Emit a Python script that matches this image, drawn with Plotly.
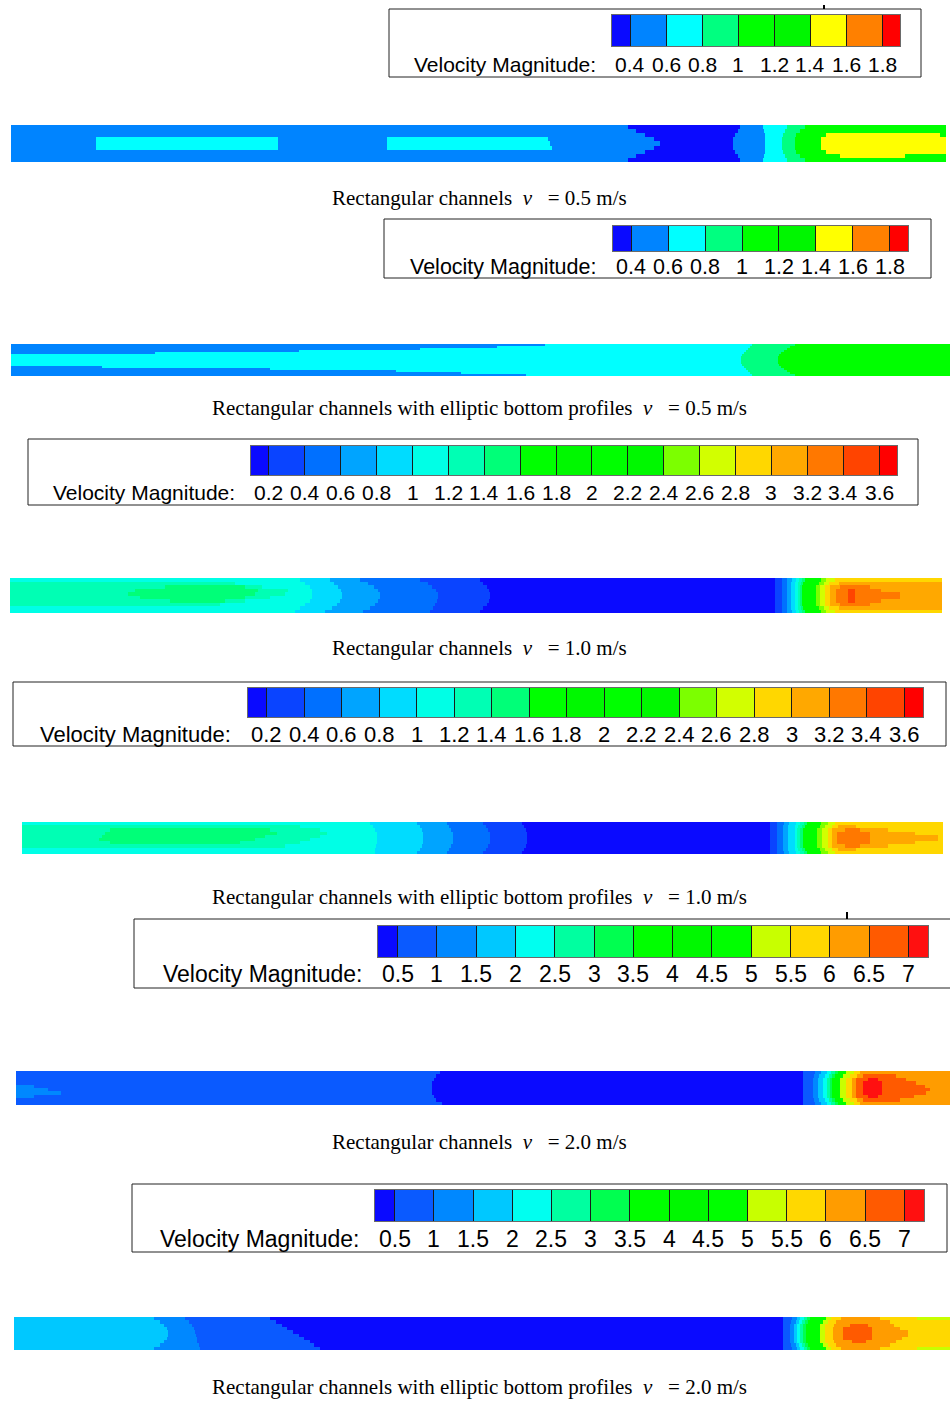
import plotly.graph_objects as go

# ---------------- legend scales (labels at block boundaries) ----------------
LEVELS_05 = [0.4, 0.6, 0.8, 1.0, 1.2, 1.4, 1.6, 1.8]
TEXT_05 = ['0.4', '0.6', '0.8', '1', '1.2', '1.4', '1.6', '1.8']
COLORS_05 = ['#0a0aff', '#0084ff', '#00ffff', '#00ff80', '#00ff00', '#00f600',
             '#ffff00', '#ff8000', '#ff0000']

LEVELS_10 = [0.2, 0.4, 0.6, 0.8, 1.0, 1.2, 1.4, 1.6, 1.8, 2.0, 2.2, 2.4, 2.6, 2.8,
             3.0, 3.2, 3.4, 3.6]
TEXT_10 = ['0.2', '0.4', '0.6', '0.8', '1', '1.2', '1.4', '1.6', '1.8', '2', '2.2',
           '2.4', '2.6', '2.8', '3', '3.2', '3.4', '3.6']
COLORS_10 = ['#0a0aff', '#0a44ff', '#0070ff', '#00a4ff', '#00dcff', '#00ffe6',
             '#00ffb4', '#00ff78', '#00ff00', '#00f800', '#00ff00', '#00f800',
             '#7cff00', '#d2ff00', '#ffd700', '#ffa800', '#ff7800', '#ff4400', '#ff0000']

LEVELS_20 = [0.5, 1.0, 1.5, 2.0, 2.5, 3.0, 3.5, 4.0, 4.5, 5.0, 5.5, 6.0, 6.5, 7.0]
TEXT_20 = ['0.5', '1', '1.5', '2', '2.5', '3', '3.5', '4', '4.5', '5', '5.5', '6',
           '6.5', '7']
COLORS_20 = ['#0a0aff', '#0a5aff', '#0088ff', '#00c8ff', '#00fff0', '#00ffa0',
             '#00ff50', '#00ff00', '#00f800', '#00ff00', '#c8ff00', '#ffd800',
             '#ff9c00', '#ff5a00', '#ff1010']

# ---------------- velocity fields: rows (top->bottom) of [x_end %, velocity] ----------------
S1_ROWS = [
    [[66.0, 0.5], [78.0, 0.35], [80.4, 0.5], [83.0, 0.7], [84.9, 0.9], [100, 1.1]],
    [[66.8, 0.5], [77.7, 0.35], [80.5, 0.5], [82.8, 0.7], [84.4, 0.9], [100, 1.1]],
    [[67.8, 0.5], [77.4, 0.35], [80.6, 0.5], [82.6, 0.7], [84.0, 0.9], [87.2, 1.1], [99.4, 1.5], [100, 1.1]],
    [[9.1, 0.5], [28.6, 0.7], [40.2, 0.5], [57.4, 0.7], [68.8, 0.5], [77.2, 0.35], [80.6, 0.5], [82.5, 0.7], [83.9, 0.9], [86.6, 1.1], [100, 1.5]],
    [[9.1, 0.5], [28.6, 0.7], [40.2, 0.5], [57.6, 0.7], [69.4, 0.5], [77.2, 0.35], [80.6, 0.5], [82.5, 0.7], [83.9, 0.9], [86.6, 1.1], [100, 1.5]],
    [[9.1, 0.5], [28.6, 0.7], [40.2, 0.5], [57.9, 0.7], [68.8, 0.5], [77.2, 0.35], [80.6, 0.5], [82.5, 0.7], [83.9, 0.9], [86.6, 1.1], [100, 1.5]],
    [[67.8, 0.5], [77.4, 0.35], [80.6, 0.5], [82.6, 0.7], [84.0, 0.9], [87.2, 1.1], [100, 1.5]],
    [[66.8, 0.5], [77.7, 0.35], [80.5, 0.5], [82.8, 0.7], [84.4, 0.9], [88.7, 1.1], [95.6, 1.5], [100, 1.1]],
    [[66.0, 0.5], [78.0, 0.35], [80.4, 0.5], [83.0, 0.7], [84.9, 0.9], [100, 1.1]],
]

S2_ROWS = [
    [[56.9, 0.5], [78.9, 0.7], [83.5, 0.9], [100, 1.1]],
    [[51.8, 0.5], [78.7, 0.7], [83.0, 0.9], [100, 1.1]],
    [[43.6, 0.5], [78.5, 0.7], [82.6, 0.9], [100, 1.1]],
    [[30.7, 0.5], [78.3, 0.7], [82.3, 0.9], [100, 1.1]],
    [[15.3, 0.5], [78.1, 0.7], [82.0, 0.9], [100, 1.1]],
    [[77.9, 0.7], [81.8, 0.9], [100, 1.1]],
    [[77.7, 0.7], [81.7, 0.9], [100, 1.1]],
    [[77.7, 0.7], [81.7, 0.9], [100, 1.1]],
    [[77.7, 0.7], [81.7, 0.9], [100, 1.1]],
    [[77.7, 0.7], [81.7, 0.9], [100, 1.1]],
    [[77.9, 0.7], [81.8, 0.9], [100, 1.1]],
    [[9.7, 0.5], [78.1, 0.7], [82.0, 0.9], [100, 1.1]],
    [[27.6, 0.5], [78.3, 0.7], [82.3, 0.9], [100, 1.1]],
    [[41.0, 0.5], [78.5, 0.7], [82.6, 0.9], [100, 1.1]],
    [[47.9, 0.5], [78.7, 0.7], [83.0, 0.9], [100, 1.1]],
    [[54.8, 0.5], [78.9, 0.7], [83.5, 0.9], [100, 1.1]],
]

S3_INLET = [
    [],
    [[24.1, 1.3]],
    [[16.6, 1.3], [25.2, 1.5], [27.0, 1.3]],
    [[13.4, 1.3], [26.6, 1.5], [29.8, 1.3]],
    [[12.7, 1.3], [26.3, 1.5], [29.5, 1.3]],
    [[13.9, 1.3], [25.2, 1.5], [27.9, 1.3]],
    [[17.2, 1.3], [23.1, 1.5], [25.2, 1.3]],
    [[22.5, 1.3]],
    [],
    [],
]
S3_BANDS = [
    [1.1, [31.1, 31.7, 32.2, 32.4, 32.4, 32.4, 32.2, 31.7, 31.1, 30.6]],
    [0.9, [34.3, 34.8, 35.2, 35.5, 35.6, 35.6, 35.4, 35.1, 34.5, 33.8]],
    [0.7, [37.6, 38.4, 39.1, 39.5, 39.7, 39.7, 39.5, 39.2, 38.6, 37.9]],
    [0.5, [44.0, 44.8, 45.3, 45.7, 45.9, 45.9, 45.8, 45.6, 45.4, 45.1]],
    [0.3, [50.4, 50.8, 51.2, 51.4, 51.5, 51.5, 51.4, 51.2, 50.8, 50.4]],
]
S3_OUT_EDGE = [[82.1, 0.15], [82.8, 0.3], [83.4, 0.5], [83.9, 0.7], [84.3, 0.9], [84.7, 1.1], [85.0, 1.3], [85.3, 1.5], [87.0, 1.7], [87.6, 2.5], [88.5, 2.7], [100, 2.9]]
S3_OUT_1 = [[82.1, 0.15], [82.8, 0.3], [83.4, 0.5], [83.8, 0.7], [84.2, 0.9], [84.6, 1.1], [84.9, 1.3], [85.1, 1.5], [86.8, 1.7], [87.3, 2.5], [87.9, 2.7], [89.0, 2.9], [100, 3.1]]
S3_OUT_2 = [[82.1, 0.15], [82.8, 0.3], [83.4, 0.5], [83.8, 0.7], [84.2, 0.9], [84.5, 1.1], [84.8, 1.3], [85.0, 1.5], [86.5, 1.7], [86.9, 2.5], [87.4, 2.7], [88.0, 2.9], [89.1, 3.1], [92.3, 3.3], [100, 3.1]]
S3_OUT_3 = [[82.1, 0.15], [82.8, 0.3], [83.4, 0.5], [83.8, 0.7], [84.2, 0.9], [84.5, 1.1], [84.8, 1.3], [85.0, 1.5], [86.5, 1.7], [86.9, 2.5], [87.4, 2.7], [88.0, 2.9], [88.6, 3.1], [89.9, 3.3], [90.7, 3.5], [93.5, 3.3], [100, 3.1]]
S3_OUT_4 = [[82.1, 0.15], [82.8, 0.3], [83.4, 0.5], [83.8, 0.7], [84.2, 0.9], [84.5, 1.1], [84.8, 1.3], [85.0, 1.5], [86.5, 1.7], [86.9, 2.5], [87.4, 2.7], [88.0, 2.9], [88.6, 3.1], [89.9, 3.3], [90.7, 3.5], [95.5, 3.3], [100, 3.1]]
S3_OUTLET = [S3_OUT_EDGE, S3_OUT_1, S3_OUT_2, S3_OUT_3, S3_OUT_4,
             S3_OUT_4, S3_OUT_3, S3_OUT_2, S3_OUT_1, S3_OUT_EDGE]

S4_INLET = [
    [],
    [[30.2, 1.3]],
    [[9.6, 1.3], [26.9, 1.5], [32.4, 1.3]],
    [[9.0, 1.3], [27.7, 1.5], [33.1, 1.3]],
    [[8.7, 1.3], [26.4, 1.5], [32.4, 1.3]],
    [[8.4, 1.3], [25.3, 1.5], [31.3, 1.3]],
    [[9.6, 1.3], [23.7, 1.5], [30.2, 1.3]],
    [[28.6, 1.3]],
    [],
    [],
]
S4_BANDS = [
    [1.1, [37.8, 38.1, 38.3, 38.5, 38.5, 38.5, 38.5, 38.4, 38.3, 38.3]],
    [0.9, [42.9, 43.2, 43.4, 43.5, 43.5, 43.5, 43.5, 43.4, 43.2, 42.9]],
    [0.7, [46.1, 46.4, 46.6, 46.8, 46.8, 46.8, 46.8, 46.6, 46.4, 46.1]],
    [0.5, [50.1, 50.4, 50.6, 50.8, 50.8, 50.8, 50.8, 50.6, 50.4, 50.1]],
    [0.3, [54.3, 54.5, 54.7, 54.8, 54.8, 54.8, 54.8, 54.7, 54.5, 54.3]],
]
S4_OUT_EDGE = [[81.2, 0.15], [82.0, 0.3], [82.7, 0.5], [83.3, 0.7], [84.0, 0.9], [84.5, 1.1], [84.9, 1.3], [85.2, 1.5], [86.8, 1.7], [87.5, 2.5], [88.3, 2.7], [100, 2.9]]
S4_OUT_1 = [[81.2, 0.15], [82.0, 0.3], [82.6, 0.5], [83.2, 0.7], [83.9, 0.9], [84.3, 1.1], [84.7, 1.3], [85.0, 1.5], [86.6, 1.7], [87.2, 2.5], [87.9, 2.7], [88.6, 2.9], [90.5, 3.1], [100, 2.9]]
S4_OUT_2 = [[81.2, 0.15], [82.0, 0.3], [82.6, 0.5], [83.2, 0.7], [83.9, 0.9], [84.2, 1.1], [84.5, 1.3], [84.8, 1.5], [86.3, 1.7], [86.9, 2.5], [87.5, 2.7], [88.0, 2.9], [89.4, 3.1], [91.0, 3.3], [94.0, 3.1], [100, 2.9]]
S4_OUT_3 = [[81.2, 0.15], [82.0, 0.3], [82.6, 0.5], [83.2, 0.7], [83.9, 0.9], [84.2, 1.1], [84.5, 1.3], [84.8, 1.5], [86.3, 1.7], [86.9, 2.5], [87.5, 2.7], [88.0, 2.9], [88.5, 3.1], [92.1, 3.3], [97.0, 3.1], [100, 2.9]]
S4_OUT_4 = [[81.2, 0.15], [82.0, 0.3], [82.6, 0.5], [83.2, 0.7], [83.9, 0.9], [84.2, 1.1], [84.5, 1.3], [84.8, 1.5], [86.3, 1.7], [86.9, 2.5], [87.5, 2.7], [88.0, 2.9], [88.5, 3.1], [92.1, 3.3], [99.5, 3.1], [100, 2.9]]
S4_OUTLET = [S4_OUT_EDGE, S4_OUT_1, S4_OUT_2, S4_OUT_3, S4_OUT_4,
             S4_OUT_4, S4_OUT_3, S4_OUT_2, S4_OUT_1, S4_OUT_EDGE]

S5_ROWS = [
    [[45.4, 0.75], [84.3, 0.4], [85.5, 0.75], [86.2, 1.25], [86.8, 1.75], [87.3, 2.25], [87.7, 2.75], [88.0, 3.25], [88.9, 3.75], [89.7, 5.25], [90.4, 5.75], [100, 6.25]],
    [[45.0, 0.75], [84.3, 0.4], [85.4, 0.75], [86.0, 1.25], [86.6, 1.75], [87.0, 2.25], [87.4, 2.75], [87.7, 3.25], [88.5, 3.75], [89.3, 5.25], [90.0, 5.75], [90.7, 6.25], [94.2, 6.75], [100, 6.25]],
    [[44.7, 0.75], [84.3, 0.4], [85.3, 0.75], [85.9, 1.25], [86.4, 1.75], [86.8, 2.25], [87.1, 2.75], [87.4, 3.25], [88.2, 3.75], [88.9, 5.25], [89.5, 5.75], [89.9, 6.25], [91.2, 6.75], [92.3, 7.1], [95.3, 6.75], [100, 6.25]],
    [[44.5, 0.75], [84.3, 0.4], [85.3, 0.75], [85.9, 1.25], [86.4, 1.75], [86.8, 2.25], [87.1, 2.75], [87.4, 3.25], [88.2, 3.75], [88.9, 5.25], [89.5, 5.75], [89.9, 6.25], [90.7, 6.75], [92.7, 7.1], [96.4, 6.75], [100, 6.25]],
    [[1.9, 1.25], [44.5, 0.75], [84.3, 0.4], [85.3, 0.75], [85.9, 1.25], [86.4, 1.75], [86.8, 2.25], [87.1, 2.75], [87.4, 3.25], [88.2, 3.75], [88.9, 5.25], [89.5, 5.75], [89.9, 6.25], [90.7, 6.75], [92.7, 7.1], [97.3, 6.75], [100, 6.25]],
    [[3.4, 1.25], [44.5, 0.75], [84.3, 0.4], [85.3, 0.75], [85.9, 1.25], [86.4, 1.75], [86.8, 2.25], [87.1, 2.75], [87.4, 3.25], [88.2, 3.75], [88.9, 5.25], [89.5, 5.75], [89.9, 6.25], [90.7, 6.75], [92.7, 7.1], [97.9, 6.75], [100, 6.25]],
    [[4.8, 1.25], [44.5, 0.75], [84.3, 0.4], [85.3, 0.75], [85.9, 1.25], [86.4, 1.75], [86.8, 2.25], [87.1, 2.75], [87.4, 3.25], [88.2, 3.75], [88.9, 5.25], [89.5, 5.75], [89.9, 6.25], [90.7, 6.75], [92.7, 7.1], [97.4, 6.75], [100, 6.25]],
    [[1.9, 1.25], [44.7, 0.75], [84.3, 0.4], [85.3, 0.75], [85.9, 1.25], [86.4, 1.75], [86.8, 2.25], [87.1, 2.75], [87.4, 3.25], [88.2, 3.75], [88.9, 5.25], [89.5, 5.75], [89.9, 6.25], [91.2, 6.75], [92.3, 7.1], [96.1, 6.75], [100, 6.25]],
    [[45.0, 0.75], [84.3, 0.4], [85.4, 0.75], [86.0, 1.25], [86.6, 1.75], [87.0, 2.25], [87.4, 2.75], [87.7, 3.25], [88.5, 3.75], [89.3, 5.25], [90.0, 5.75], [90.7, 6.25], [94.6, 6.75], [100, 6.25]],
    [[45.6, 0.75], [84.3, 0.4], [85.5, 0.75], [86.2, 1.25], [86.8, 1.75], [87.3, 2.25], [87.7, 2.75], [88.0, 3.25], [88.9, 3.75], [89.7, 5.25], [90.4, 5.75], [100, 6.25]],
]

S6_BANDS = [
    [1.75, [15.0, 15.6, 16.0, 16.3, 16.5, 16.5, 16.3, 16.0, 15.6, 15.0]],
    [1.25, [18.3, 18.7, 19.0, 19.2, 19.3, 19.4, 19.5, 19.6, 19.8, 19.9]],
    [0.75, [27.4, 28.0, 28.6, 29.2, 29.8, 30.4, 31.0, 31.6, 32.1, 32.7]],
]
S6_OUT_EDGE = [[82.2, 0.4], [83.1, 0.75], [83.6, 1.25], [84.0, 1.75], [84.4, 2.25], [84.7, 2.75], [85.0, 3.25], [86.7, 3.75], [87.3, 5.25], [88.4, 5.75], [92.5, 6.25], [96.5, 5.75], [100, 5.25]]
S6_OUT_1 = [[82.2, 0.4], [83.0, 0.75], [83.5, 1.25], [83.9, 1.75], [84.2, 2.25], [84.5, 2.75], [84.8, 3.25], [86.4, 3.75], [87.0, 5.25], [87.8, 5.75], [93.6, 6.25], [100, 5.75]]
S6_OUT_2 = [[82.2, 0.4], [82.9, 0.75], [83.3, 1.25], [83.7, 1.75], [84.0, 2.25], [84.3, 2.75], [84.6, 3.25], [86.1, 3.75], [86.6, 5.25], [87.6, 5.75], [89.3, 6.25], [91.2, 6.75], [94.0, 6.25], [100, 5.75]]
S6_OUT_3 = [[82.2, 0.4], [82.9, 0.75], [83.3, 1.25], [83.7, 1.75], [84.0, 2.25], [84.3, 2.75], [84.6, 3.25], [86.1, 3.75], [86.6, 5.25], [87.5, 5.75], [88.6, 6.25], [91.7, 6.75], [94.7, 6.25], [100, 5.75]]
S6_OUT_4 = [[82.2, 0.4], [82.9, 0.75], [83.3, 1.25], [83.7, 1.75], [84.0, 2.25], [84.3, 2.75], [84.6, 3.25], [86.1, 3.75], [86.6, 5.25], [87.5, 5.75], [88.6, 6.25], [91.7, 6.75], [95.5, 6.25], [100, 5.75]]
S6_OUT_6 = [[82.2, 0.4], [82.9, 0.75], [83.3, 1.25], [83.7, 1.75], [84.0, 2.25], [84.3, 2.75], [84.6, 3.25], [86.1, 3.75], [86.6, 5.25], [87.5, 5.75], [88.6, 6.25], [91.7, 6.75], [94.9, 6.25], [100, 5.75]]
S6_OUT_7 = [[82.2, 0.4], [82.9, 0.75], [83.3, 1.25], [83.7, 1.75], [84.0, 2.25], [84.3, 2.75], [84.6, 3.25], [86.1, 3.75], [86.6, 5.25], [87.6, 5.75], [89.5, 6.25], [91.0, 6.75], [94.2, 6.25], [100, 5.75]]
S6_OUTLET = [S6_OUT_EDGE, S6_OUT_1, S6_OUT_2, S6_OUT_3, S6_OUT_4,
             S6_OUT_4, S6_OUT_6, S6_OUT_7, S6_OUT_1, S6_OUT_EDGE]

CAPTIONS = [
    'Rectangular channels',
    'Rectangular channels with elliptic bottom profiles',
    'Rectangular channels',
    'Rectangular channels with elliptic bottom profiles',
    'Rectangular channels',
    'Rectangular channels with elliptic bottom profiles',
]
SPEEDS = ['0.5', '0.5', '1.0', '1.0', '2.0', '2.0']


def compose(inlet, bands, outlet):
    rows = []
    for k in range(len(inlet)):
        rows.append(list(inlet[k]) + [[ends[k], v] for v, ends in bands] + list(outlet[k]))
    return rows


def expand(rows):
    xs = sorted({0.0} | {float(seg[0]) for row in rows for seg in row})
    z = []
    for row in rows:
        line = []
        for a, b in zip(xs[:-1], xs[1:]):
            m = (a + b) / 2
            val = row[-1][1]
            for xe, v in row:
                if m <= xe:
                    val = v
                    break
            line.append(val)
        z.append(line)
    return xs, z


def discrete_scale(edges, colors):
    lo, hi = edges[0], edges[-1]
    sc = []
    for i, c in enumerate(colors):
        a = 0.0 if i == 0 else round((edges[i] - lo) / (hi - lo), 6)
        b = 1.0 if i == len(colors) - 1 else round((edges[i + 1] - lo) / (hi - lo), 6)
        sc.append([a, c])
        sc.append([b, c])
    return sc


FIELDS = [
    S1_ROWS,
    S2_ROWS,
    compose(S3_INLET, S3_BANDS, S3_OUTLET),
    compose(S4_INLET, S4_BANDS, S4_OUTLET),
    S5_ROWS,
    compose([[] for _ in range(10)], S6_BANDS, S6_OUTLET),
]
SCALES = [(LEVELS_05, TEXT_05, COLORS_05), (LEVELS_05, TEXT_05, COLORS_05),
          (LEVELS_10, TEXT_10, COLORS_10), (LEVELS_10, TEXT_10, COLORS_10),
          (LEVELS_20, TEXT_20, COLORS_20), (LEVELS_20, TEXT_20, COLORS_20)]

# ---------------- page geometry (pixels) ----------------
W, H = 950, 1401
GEOM = [
    dict(box=(389, 9, 921, 77), bar=(612, 15, 900, 46), lab=65, vm=598, fs=21, strip=(11, 125, 946, 162), cap=198),
    dict(box=(384, 219, 931, 278), bar=(613, 226, 908, 251), lab=267, vm=598, fs=21.5, strip=(11, 344, 950, 376), cap=408),
    dict(box=(28, 439, 918, 505), bar=(251, 446, 897, 475), lab=492, vm=237, fs=21, strip=(10, 578, 942, 613), cap=648),
    dict(box=(13, 682, 946, 746), bar=(248, 688, 923, 717), lab=734, vm=233, fs=22, strip=(22, 822, 943, 854), cap=897),
    dict(box=(134, 919, 953, 988), bar=(378, 926, 928, 957), lab=974, vm=364, fs=23, strip=(16, 1071, 950, 1105), cap=1142),
    dict(box=(132, 1184, 947, 1252), bar=(375, 1190, 924, 1221), lab=1239, vm=361, fs=23, strip=(14, 1317, 950, 1350), cap=1387),
]


def fx(x):
    return x / W


def fy(y):
    return 1 - y / H


fig = go.Figure()
layout = dict(width=W, height=H, margin=dict(l=0, r=0, t=0, b=0, pad=0),
              paper_bgcolor='white', plot_bgcolor='white', showlegend=False)
shapes, annotations = [], []
n = 0
SANS = 'Liberation Sans, Arial, sans-serif'
SERIF = 'Liberation Serif, Times New Roman, serif'

for i, g in enumerate(GEOM):
    levels, texts, colors = SCALES[i]
    step = levels[1] - levels[0]
    lo, hi = levels[0] - step / 2, levels[-1] + step / 2
    edges = [lo] + levels + [hi]
    centers = [(a + b) / 2 for a, b in zip(edges[:-1], edges[1:])]
    scale = discrete_scale(edges, colors)

    # ---- legend bar ----
    n += 1
    xk = 'xaxis' if n == 1 else 'xaxis%d' % n
    yk = 'yaxis' if n == 1 else 'yaxis%d' % n
    xr = 'x' if n == 1 else 'x%d' % n
    yr = 'y' if n == 1 else 'y%d' % n
    bx0, by0, bx1, by1 = g['bar']
    fig.add_trace(go.Heatmap(x=edges, y=[0, 1], z=[centers], colorscale=scale,
                             zmin=lo, zmax=hi, showscale=False, zsmooth=False,
                             hoverinfo='skip', xaxis=xr, yaxis=yr))
    layout[xk] = dict(domain=[fx(bx0), fx(bx1)], range=[lo, hi], anchor=yr,
                      showgrid=False, zeroline=False, showticklabels=False,
                      ticks='inside', ticklen=by1 - by0, tickwidth=1, tickcolor='#1a1a1a',
                      tickvals=levels, showline=True, mirror=True, linecolor='#6a6a6a',
                      linewidth=1, layer='above traces', fixedrange=True)
    layout[yk] = dict(domain=[fy(by1), fy(by0)], range=[0, 1], anchor=xr,
                      showgrid=False, zeroline=False, showticklabels=False, ticks='',
                      showline=True, mirror=True, linecolor='#6a6a6a', linewidth=1,
                      fixedrange=True)
    for v, t in zip(levels, texts):
        annotations.append(dict(x=v, xref=xr, y=fy(g['lab']), yref='paper', text=t,
                                showarrow=False, xanchor='center', yanchor='middle',
                                font=dict(family=SANS, size=g['fs'], color='black')))
    annotations.append(dict(x=fx(g['vm']), xref='paper', y=fy(g['lab']), yref='paper',
                            text='Velocity Magnitude:', showarrow=False, xanchor='right',
                            yanchor='middle', font=dict(family=SANS, size=g['fs'], color='black')))
    x0, y0, x1, y1 = g['box']
    shapes.append(dict(type='rect', xref='paper', yref='paper', x0=fx(x0), x1=fx(x1),
                       y0=fy(y1), y1=fy(y0), line=dict(color='#222222', width=1),
                       fillcolor='rgba(0,0,0,0)', layer='above'))

    # ---- velocity strip ----
    n += 1
    xk = 'xaxis%d' % n
    yk = 'yaxis%d' % n
    xr = 'x%d' % n
    yr = 'y%d' % n
    rows = FIELDS[i]
    xs, z = expand(rows)
    nr = len(rows)
    sx0, sy0, sx1, sy1 = g['strip']
    fig.add_trace(go.Heatmap(x=xs, y=list(range(nr + 1)), z=z, colorscale=scale,
                             zmin=lo, zmax=hi, showscale=False, zsmooth=False,
                             hoverinfo='skip', xaxis=xr, yaxis=yr))
    layout[xk] = dict(domain=[fx(sx0), fx(sx1)], range=[0, 100], anchor=yr,
                      visible=False, fixedrange=True)
    layout[yk] = dict(domain=[fy(sy1), fy(sy0)], range=[nr, 0], anchor=xr,
                      visible=False, fixedrange=True)

    # ---- caption ----
    nb = '\u00a0'
    annotations.append(dict(x=fx(479.5), xref='paper', y=fy(g['cap']), yref='paper',
                            text=CAPTIONS[i] + nb * 2 + '<i>v</i>' + nb * 3 + '= ' + SPEEDS[i] + ' m/s',
                            showarrow=False, xanchor='center', yanchor='middle',
                            font=dict(family=SERIF, size=21, color='black')))

# small tick marks above two legend frames
shapes.append(dict(type='line', xref='paper', yref='paper', x0=fx(824), x1=fx(824),
                   y0=fy(9), y1=fy(5), line=dict(color='black', width=2)))
shapes.append(dict(type='line', xref='paper', yref='paper', x0=fx(847), x1=fx(847),
                   y0=fy(919), y1=fy(912), line=dict(color='black', width=2)))

layout['shapes'] = shapes
layout['annotations'] = annotations
fig.update_layout(**layout)
fig.write_html('out.html')
